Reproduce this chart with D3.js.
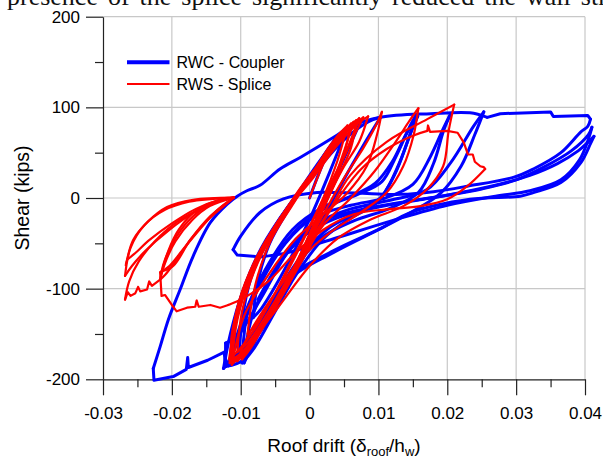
<!DOCTYPE html>
<html>
<head>
<meta charset="utf-8">
<script src="https://cdn.jsdelivr.net/npm/d3@7"></script>
<style>
body { margin: 0; background: #fff; }
svg { display: block; font-family: "Liberation Sans", Arial, sans-serif; }
</style>
</head>
<body>
<div id="chart"></div>
<script>
// axis ticks
const xMajorTicks = [-0.03, -0.02, -0.01, 0, 0.01, 0.02, 0.03, 0.04];
const xMinorTicks = [-0.025, -0.015, -0.005, 0.005, 0.015, 0.025, 0.035];
const yMajorTicks = [-200, -100, 0, 100, 200];
const yMinorTicks = [-150, -50, 50, 150];
const seriesNames = ["RWC - Coupler", "RWS - Splice"];

// RWC - Coupler : hysteresis branches [roof drift, shear kips], smooth parts
const rwcSmooth = [
  [[0,0],[0.0015,30],[0.003,55],[0.004,68]],
  [[0.004,68],[0.0025,52],[0,22],[-0.003,-12],[-0.0058,-50],[-0.0075,-92],[-0.0082,-132]],
  [[-0.0082,-132],[-0.007,-122],[-0.0048,-95],[-0.0022,-58],[0.0005,-15],[0.003,30],[0.0055,78]],
  [[0.0055,78],[0.004,66],[0.0012,38],[-0.002,2],[-0.0055,-38],[-0.0085,-88],[-0.0098,-135],[-0.0102,-172]],
  [[-0.0102,-172],[-0.0088,-162],[-0.0062,-135],[-0.0035,-98],[-0.0008,-55],[0.002,-8],[0.0048,40],[0.0075,86]],
  [[0.0075,86],[0.0058,77],[0.0028,50],[-0.0008,14],[-0.0045,-25],[-0.008,-72],[-0.0103,-118],[-0.0112,-150],[-0.0115,-183]],
  [[-0.0115,-183],[-0.0098,-172],[-0.0072,-148],[-0.0042,-112],[-0.0012,-70],[0.0018,-25],[0.0048,18],[0.0078,58],[0.0103,89]],
  [[0.0103,89],[0.0085,84],[0.005,64],[0.001,30],[-0.003,-8],[-0.007,-55],[-0.0098,-105],[-0.0115,-150],[-0.0125,-188]],
  [[-0.0125,-188],[-0.0105,-172],[-0.0075,-140],[-0.0045,-102],[-0.001,-62],[0.003,-32],[0.007,-16],[0.0105,2],[0.013,38],[0.0148,75],[0.0155,92]],
  [[0.0155,92],[0.0145,78],[0.0125,45],[0.0105,18],[0.007,4],[0.003,-8],[-0.0015,-32],[-0.0055,-70],[-0.0088,-118],[-0.0098,-182]],
  [[-0.0098,-182],[-0.008,-165],[-0.0052,-128],[-0.002,-85],[0.002,-45],[0.006,-22],[0.0098,-5],[0.0125,28],[0.0145,68],[0.0157,90]],
  [[0.0157,90],[0.014,70],[0.012,40],[0.0095,16],[0.006,2],[0.002,-10],[-0.0025,-35],[-0.0065,-80],[-0.0098,-135],[-0.0118,-185]],
  [[-0.0118,-185],[-0.0098,-172],[-0.0062,-128],[-0.0025,-82],[0.0015,-45],[0.0065,-25],[0.0115,-12],[0.0158,6],[0.018,38],[0.0195,75],[0.0205,93]],
  [[0.0205,93],[0.0195,78],[0.0175,45],[0.015,15],[0.011,0],[0.006,-8],[0.0005,-22],[-0.0035,-50],[-0.0078,-105],[-0.0108,-165],[-0.0122,-186]],
  [[-0.0122,-186],[-0.0095,-178],[-0.0065,-135],[-0.003,-88],[0.0035,-58],[0.0105,-33],[0.0147,-16],[0.019,5],[0.022,35],[0.024,70],[0.0253,95]],
  [[0.0253,95],[0.0238,79],[0.0205,39],[0.017,9],[0.012,-2],[0.006,-12],[0.001,-28],[-0.003,-58],[-0.007,-110],[-0.0105,-152],[-0.0122,-160]],
  [[-0.0227,-188],[-0.0217,-164],[-0.0205,-134],[-0.0188,-101],[-0.0169,-64],[-0.0144,-27],[-0.012,-7],[-0.0105,2],[-0.0091,8],[-0.0072,14],[-0.0043,32],[-0.0013,45],[0.0035,67],[0.006,79],[0.0103,89],[0.0176,93],[0.0233,94],[0.0258,89]],
  [[0.0408,87],[0.0404,79],[0.0394,73],[0.0365,50],[0.0325,32],[0.0297,23],[0.0229,13],[0.018,7],[0.0132,4],[0.0084,5],[0.004,6],[0.0011,6],[-0.0038,-1],[-0.0072,-16],[-0.01,-42],[-0.0111,-57]],
  [[-0.0072,-65],[-0.003,-60],[0.0035,-45],[0.012,-25],[0.02,-8],[0.027,2],[0.032,8],[0.0365,20],[0.0392,42],[0.0405,65],[0.041,78]],
  [[0.041,78],[0.0405,70],[0.038,52],[0.034,34],[0.03,20],[0.025,10],[0.02,3],[0.014,-4],[0.008,-12],[0.003,-22],[-0.0015,-42],[-0.0055,-85],[-0.0085,-135],[-0.0095,-182]],
  [[-0.0095,-182],[-0.0065,-135],[-0.003,-90],[0.0035,-60],[0.0105,-33],[0.0147,-16],[0.0233,-1.5],[0.0306,2],[0.0325,6],[0.0365,17],[0.0394,39],[0.0408,60],[0.0413,68]],
  [[0.0413,68],[0.0405,62],[0.039,52],[0.036,38],[0.032,25],[0.028,16],[0.022,6],[0.016,-2],[0.01,-10],[0.004,-22],[-0.0005,-40],[-0.004,-68],[-0.0075,-112]]
];

// RWC - Coupler : jagged parts (straight segments)
const rwcJagged = [
  [[-0.0122,-160],[-0.0122,-186],[-0.0124,-170],[-0.0148,-179],[-0.0176,-187],[-0.0177,-176],[-0.0179,-189],[-0.0198,-197],[-0.0226,-201],[-0.0227,-188]],
  [[0.0258,89],[0.0277,93],[0.035,95],[0.0354,90],[0.0404,91],[0.0408,87]],
  [[-0.0111,-57],[-0.0105,-63],[-0.0072,-65]]
];

// RWS - Splice : smooth parts
const rwsSmooth = [
  [[0,0],[0.002,38],[0.0035,62],[0.0045,72]],
  [[0.0045,72],[0.003,58],[0.0005,28],[-0.0025,-8],[-0.0055,-45],[-0.0075,-85],[-0.0085,-120],[-0.009,-150]],
  [[-0.009,-150],[-0.0078,-140],[-0.0055,-112],[-0.003,-78],[-0.0005,-40],[0.002,0],[0.004,40],[0.0055,80]],
  [[0.0055,80],[0.004,68],[0.0015,40],[-0.0015,5],[-0.005,-35],[-0.008,-80],[-0.0098,-125],[-0.0105,-170]],
  [[-0.0105,-170],[-0.009,-160],[-0.0065,-132],[-0.004,-100],[-0.0012,-60],[0.0015,-15],[0.004,30],[0.0064,84]],
  [[0.0064,84],[0.0048,72],[0.002,44],[-0.0015,8],[-0.0052,-35],[-0.0085,-85],[-0.0105,-135],[-0.0113,-184]],
  [[-0.0113,-184],[-0.0096,-170],[-0.0072,-145],[-0.0045,-110],[-0.0018,-70],[0.001,-22],[0.0035,20],[0.0058,58],[0.0078,89]],
  [[0.0078,89],[0.006,78],[0.003,50],[-0.0005,14],[-0.0045,-25],[-0.008,-70],[-0.0103,-115],[-0.0112,-150],[-0.0116,-182]],
  [[-0.0116,-182],[-0.0098,-172],[-0.0074,-150],[-0.0045,-115],[-0.0015,-72],[0.0012,-25],[0.0038,18],[0.006,55],[0.0068,86]],
  [[0.0068,86],[0.0052,75],[0.0025,48],[-0.001,12],[-0.0048,-28],[-0.0082,-75],[-0.0104,-120],[-0.0114,-160],[-0.011,-178]],
  [[-0.011,-178],[-0.0094,-168],[-0.0068,-140],[-0.004,-105],[-0.001,-60],[0.002,-10],[0.0048,32],[0.0072,62],[0.0085,90]],
  [[0.0085,90],[0.007,82],[0.004,58],[0.0005,22],[-0.0035,-15],[-0.0072,-60],[-0.0098,-105],[-0.011,-145],[-0.0115,-180]],
  [[-0.0115,-180],[-0.01,-172],[-0.0078,-152],[-0.0052,-122],[-0.0025,-85],[0.0002,-42],[0.0028,2],[0.0048,42],[0.006,82]],
  [[0.006,82],[0.0045,70],[0.0018,42],[-0.0018,6],[-0.0058,-42],[-0.009,-95],[-0.0108,-140],[-0.0117,-178]],
  [[-0.0117,-178],[-0.0103,-168],[-0.008,-145],[-0.0055,-112],[-0.0028,-72],[0.0002,-28],[0.003,15],[0.0055,55],[0.0072,88]],
  [[0.0072,88],[0.0056,77],[0.0028,52],[-0.0006,16],[-0.0042,-22],[-0.0078,-68],[-0.0101,-112],[-0.0111,-148],[-0.0115,-180]],
  [[-0.0115,-180],[-0.0098,-170],[-0.0072,-145],[-0.0042,-108],[-0.001,-62],[0.002,-18],[0.005,22],[0.0078,55],[0.0095,78],[0.0105,95]],
  [[0.0105,95],[0.0098,70],[0.0083,35],[0.0054,5],[0.002,-18],[-0.002,-45],[-0.006,-85],[-0.0095,-130],[-0.0112,-182]],
  [[-0.0112,-182],[-0.0095,-170],[-0.0068,-142],[-0.004,-108],[-0.001,-68],[0.002,-30],[0.006,0],[0.0095,30],[0.0125,62],[0.0145,85],[0.0158,99]],
  [[0.0158,99],[0.0151,69],[0.0136,35],[0.0112,6],[0.0074,-16],[0.003,-38],[-0.001,-65],[-0.005,-105],[-0.0088,-150],[-0.0105,-180]],
  [[-0.0105,-180],[-0.009,-168],[-0.0062,-135],[-0.0035,-98],[-0.0005,-55],[0.003,-12],[0.0059,25],[0.0112,62],[0.0171,87],[0.021,103]],
  [[0.021,103],[0.0202,74],[0.0194,35],[0.0171,10],[0.0136,-9],[0.0088,-24],[0.004,-45],[0,-75],[-0.0045,-120],[-0.0085,-160],[-0.0098,-178]],
  [[-0.0098,-178],[-0.0085,-165],[-0.0058,-130],[-0.0028,-90],[0.0005,-45],[0.004,-2],[0.0075,32],[0.0112,54],[0.0151,69],[0.0171,74]],
  [[0.0255,32],[0.0229,13],[0.02,-1.5],[0.0161,-9],[0.0112,-12.5],[0.0064,-18],[0.002,-35],[-0.002,-60],[-0.006,-92],[-0.0095,-110],[-0.0118,-118]],
  // fan, inner group
  [[-0.0217,-82],[-0.0205,-76],[-0.0185,-58],[-0.016,-35],[-0.0135,-14],[-0.0115,-2],[-0.011,0.4]],
  [[-0.011,0.4],[-0.0135,-3],[-0.0165,-14],[-0.019,-35],[-0.0205,-58],[-0.0214,-80],[-0.0217,-90]],
  [[-0.0217,-90],[-0.021,-85],[-0.0195,-70],[-0.0172,-45],[-0.0145,-22],[-0.012,-6],[-0.011,0.4]],
  [[-0.011,0.4],[-0.0144,-7],[-0.0169,-20],[-0.0193,-42],[-0.021,-68],[-0.0215,-81]],
  [[-0.0215,-81],[-0.0198,-75],[-0.0173,-46],[-0.0144,-20],[-0.012,-5],[-0.011,0.4]],
  [[-0.011,0.4],[-0.0145,-9],[-0.017,-24],[-0.0195,-48],[-0.021,-72],[-0.0217,-90]],
  // fan, outer group
  [[-0.0268,-112],[-0.0262,-92],[-0.0248,-70],[-0.0225,-48],[-0.019,-25],[-0.015,-9],[-0.0125,-2],[-0.011,0.4]],
  [[-0.011,0.4],[-0.014,-1],[-0.0175,-4],[-0.021,-13],[-0.024,-30],[-0.026,-55],[-0.0268,-86]],
  [[-0.0268,-86],[-0.0258,-75],[-0.0238,-58],[-0.0205,-36],[-0.017,-17],[-0.0135,-4],[-0.011,0.4]],
  [[-0.011,0.4],[-0.0169,-2],[-0.0207,-10],[-0.0236,-27],[-0.0256,-46],[-0.0265,-68]],
  [[-0.0265,-68],[-0.0255,-62],[-0.0232,-46],[-0.02,-28],[-0.0165,-12],[-0.013,-2],[-0.011,0.4]]
];

// RWS - Splice : jagged parts (straight segments)
const rwsJagged = [
  [[0.0171,74],[0.0172,80],[0.0175,73],[0.02,74],[0.0215,72],[0.0224,61],[0.023,48],[0.0237,48],[0.024,40],[0.0248,35],[0.0253,34],[0.0255,32]],
  [[-0.0118,-118],[-0.013,-121],[-0.0144,-118],[-0.0161,-120],[-0.0164,-113],[-0.0166,-120],[-0.0178,-121],[-0.0193,-125],[-0.02,-118],[-0.021,-107],[-0.0215,-108],[-0.0217,-82]],
  [[-0.0217,-90],[-0.0229,-97],[-0.0233,-92],[-0.0236,-101],[-0.0246,-103],[-0.0249,-98],[-0.0253,-105],[-0.026,-108],[-0.0264,-104],[-0.0268,-112]],
  [[-0.0265,-68],[-0.0267,-74],[-0.0266,-70]]
];

const width = 603, height = 457;
const plot = {left: 103, right: 585, top: 16.7, bottom: 379.3};

const svg = d3.select("#chart").append("svg")
  .attr("width", width)
  .attr("height", height);

const xScale = d3.scaleLinear().domain([-0.03, 0.04]).range([plot.left, plot.right]);
const yScale = d3.scaleLinear().domain([-200, 200]).range([plot.bottom, plot.top]);

// clipped paragraph line above the figure
svg.append("text")
  .attr("x", 7)
  .attr("y", 5)
  .attr("font-family", "'Liberation Serif', 'Times New Roman', serif")
  .attr("font-size", 26)
  .attr("word-spacing", 3.5)
  .attr("fill", "#111")
  .text("presence of the splice significantly reduced the wall strength");

// grid lines
svg.append("g").selectAll("line")
  .data(xMajorTicks.filter(d => d !== -0.03))
  .join("line")
  .attr("x1", d => xScale(d)).attr("x2", d => xScale(d))
  .attr("y1", plot.top).attr("y2", plot.bottom)
  .attr("stroke", "#c8c8c8").attr("stroke-width", 1.2);

svg.append("g").selectAll("line")
  .data(yMajorTicks.filter(d => d !== -200))
  .join("line")
  .attr("x1", plot.left).attr("x2", plot.right)
  .attr("y1", d => yScale(d)).attr("y2", d => yScale(d))
  .attr("stroke", "#c8c8c8").attr("stroke-width", 1.2);

// axes
svg.append("g")
  .attr("class", "xAxisG")
  .attr("transform", "translate(0," + plot.bottom + ")")
  .call(d3.axisBottom(xScale).tickValues(xMajorTicks).tickSize(16).tickSizeOuter(0)
    .tickPadding(12).tickFormat(d => String(d)));

svg.append("g")
  .attr("transform", "translate(0," + plot.bottom + ")")
  .call(d3.axisBottom(xScale).tickValues(xMinorTicks).tickSize(8).tickSizeOuter(0).tickFormat(""))
  .call(g => g.select(".domain").remove());

svg.append("g")
  .attr("class", "yAxisG")
  .attr("transform", "translate(" + plot.left + ",0)")
  .call(d3.axisLeft(yScale).tickValues(yMajorTicks).tickSize(17).tickSizeOuter(0)
    .tickPadding(6).tickFormat(d => String(d)));

svg.append("g")
  .attr("transform", "translate(" + plot.left + ",0)")
  .call(d3.axisLeft(yScale).tickValues(yMinorTicks).tickSize(8).tickSizeOuter(0).tickFormat(""))
  .call(g => g.select(".domain").remove());

svg.selectAll(".xAxisG, .yAxisG").selectAll("text")
  .attr("font-size", 17)
  .attr("font-family", "'Liberation Sans', Arial, sans-serif")
  .attr("fill", "#000");
svg.selectAll("g .tick line, .domain").attr("stroke", "#222").attr("stroke-width", 1.2);

// data lines
const smoothLine = d3.line()
  .x(d => xScale(d[0]))
  .y(d => yScale(d[1]))
  .curve(d3.curveCatmullRom.alpha(0.5));

const jaggedLine = d3.line()
  .x(d => xScale(d[0]))
  .y(d => yScale(d[1]));

function drawSeries(smooth, jagged, color, lineWidth) {
  const g = svg.append("g")
    .attr("fill", "none")
    .attr("stroke", color)
    .attr("stroke-width", lineWidth)
    .attr("stroke-linejoin", "round")
    .attr("stroke-linecap", "round");
  g.selectAll(".smooth").data(smooth).join("path").attr("class", "smooth").attr("d", smoothLine);
  g.selectAll(".jagged").data(jagged).join("path").attr("class", "jagged").attr("d", jaggedLine);
}

drawSeries(rwcSmooth, rwcJagged, "#0000ff", 3);
drawSeries(rwsSmooth, rwsJagged, "#ff0000", 2.2);

// legend
const legend = svg.append("g");
const legendRows = [
  {name: seriesNames[0], color: "#0000ff", w: 4, y: 62.3},
  {name: seriesNames[1], color: "#ff0000", w: 2, y: 84}
];
legendRows.forEach(r => {
  legend.append("line")
    .attr("x1", 127).attr("x2", 169.5)
    .attr("y1", r.y).attr("y2", r.y)
    .attr("stroke", r.color).attr("stroke-width", r.w);
  legend.append("text")
    .attr("x", 176.5).attr("y", r.y)
    .attr("dy", "0.35em")
    .attr("font-size", 16)
    .attr("fill", "#000")
    .text(r.name);
});

// axis titles
svg.append("text")
  .attr("transform", "translate(29,198) rotate(-90)")
  .attr("text-anchor", "middle")
  .attr("font-size", 19.5)
  .attr("fill", "#000")
  .text("Shear (kips)");

const xTitle = svg.append("text")
  .attr("x", 344)
  .attr("y", 451.5)
  .attr("text-anchor", "middle")
  .attr("font-size", 19)
  .attr("fill", "#000");
xTitle.append("tspan").text("Roof drift (\u03b4");
xTitle.append("tspan").attr("font-size", 13).attr("dy", 4).text("roof");
xTitle.append("tspan").attr("dy", -4).text("/h");
xTitle.append("tspan").attr("font-size", 13).attr("dy", 4).text("w");
xTitle.append("tspan").attr("dy", -4).text(")");
</script>
</body>
</html>
